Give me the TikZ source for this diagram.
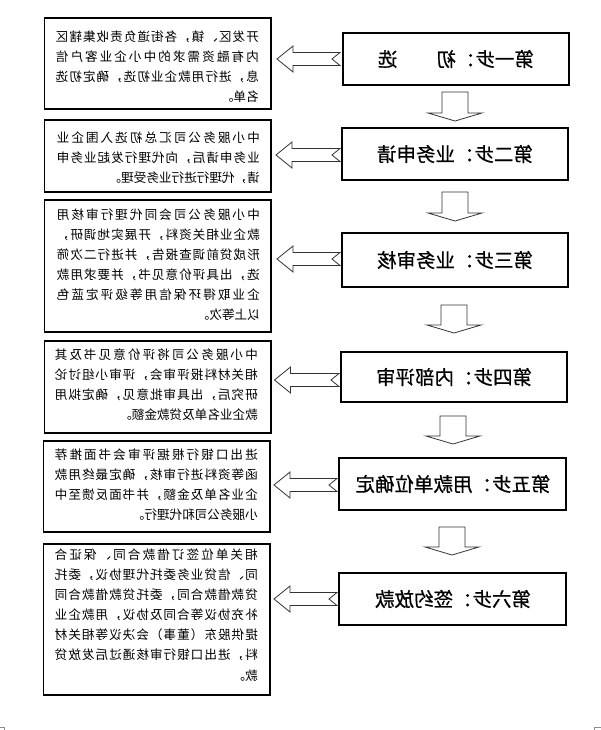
\documentclass[tikz,border=0pt]{standalone}
\usepackage{fontspec}
\newfontfamily\cjk{Noto Sans CJK SC}
\newfontfamily\cjkt[FakeBold=0.6]{Noto Sans CJK SC}
\newlength\jw
\setlength\jw{203pt}
\def\jend{\jend}
\def\jsp#1{\ifx#1\jend\else#1\expandafter\jsq\fi}
\def\jsq#1{\ifx#1\jend\else\hfil#1\expandafter\jsq\fi}
\newcommand\jl[1]{\makebox[\jw][s]{\jsp#1\jend}}
\tikzset{
  mir/.style={xscale=-1},
  txtbox/.style={draw=black, line width=1.1pt},
  stepbox/.style={draw=black, line width=1.3pt},
  tline/.style={mir, anchor=west, inner sep=0pt, font=\cjk\fontsize{12.6}{13}\selectfont},
  ttl/.style={mir, inner sep=0pt, font=\cjkt\fontsize{19.5}{20}\selectfont},
  barrow/.style={draw=black!80, line width=0.8pt, fill=white, line join=miter},
}
% notched left arrow: tip x, centre y, tail x
\newcommand\larrow[3]{%
  \draw[barrow] (#1,#2) -- (#1+16,#2-13) -- (#1+16,#2-6.5) -- (#3,#2-6.5)
     -- (#3-8,#2) -- (#3,#2+6.5) -- (#1+16,#2+6.5) -- (#1+16,#2+13) -- cycle;}
% down block arrow: centre x, top y, tip y
\newcommand\darrow[3]{%
  \draw[barrow] (#1-13,#2) -- (#1+13,#2) -- (#1+13,#3-8) -- (#1+27,#3-8)
     -- (#1,#3) -- (#1-27,#3-8) -- (#1-13,#3-8) -- cycle;}
\begin{document}
\begin{tikzpicture}[x=1pt,y=-1pt]
\useasboundingbox (0,0) rectangle (601,730);

% ---- step boxes (right column) ----
\draw[stepbox] (343,33) rectangle (569,85);   \coordinate (s1) at (456,59);
\draw[stepbox] (342,128) rectangle (568,180); \coordinate (s2) at (455,154);
\draw[stepbox] (342,233) rectangle (568,287); \coordinate (s3) at (455,260);
\draw[stepbox] (341,352) rectangle (567,402); \coordinate (s4) at (454,377);
\draw[stepbox] (339,458) rectangle (566,510); \coordinate (s5) at (453,484);
\draw[stepbox] (339,573) rectangle (566,625); \coordinate (s6) at (453,599);

\node[ttl] (t1) at (s1) {第一步：初　　选};
\node[ttl] (t2) at (s2) {第二步：业务申请};
\node[ttl] (t3) at (s3) {第三步：业务审核};
\node[ttl] (t4) at (s4) {第四步：内部评审};
\node[ttl] (t5) at (s5) {第五步：用款单位确定};
\node[ttl] (t6) at (s6) {第六步：签约放款};

% ---- down arrows ----
\darrow{455}{92}{121}
\darrow{455}{192}{221}
\darrow{454}{305}{333}
\darrow{453}{416}{444}
\darrow{452}{527}{555}

% ---- left arrows ----
\larrow{277}{59}{340}
\larrow{276}{155}{340}
\larrow{277}{259}{340}
\larrow{274.5}{380}{339}
\larrow{274}{485}{337}
\larrow{274}{599}{337}

% ---- text boxes (left column) ----
\draw[txtbox] (44.5,18) rectangle (271,109);
\draw[txtbox] (44.5,120) rectangle (271,192);
\draw[txtbox] (44.5,200) rectangle (271,332);
\draw[txtbox] (44.5,341) rectangle (271,433);
\draw[txtbox] (43.5,441) rectangle (270,532);
\draw[txtbox] (43.5,544) rectangle (270,695);

\node[tline] (a1) at (259,37) {\jl{开发区、镇，各街道负责收集辖区}};
\node[tline] (a2) at (259,57) {\jl{内有融资需求的中小企业客户信}};
\node[tline] (a3) at (259,77) {\jl{息，进行用款企业初选，确定初选}};
\node[tline] (a4) at (259,97) {名单。};

\node[tline] (b1) at (260,138) {\jl{中小服务公司汇总初选入围企业}};
\node[tline] (b2) at (260,158) {\jl{业务申请后，向代理行发起业务申}};
\node[tline] (b3) at (260,178) {请，代理行进行业务受理。};

\node[tline] (c1) at (260,215) {\jl{中小服务公司会同代理行审核用}};
\node[tline] (c2) at (260,235) {\jl{款企业相关资料，开展实地调研，}};
\node[tline] (c3) at (260,255) {\jl{形成贷前调查报告，并进行二次筛}};
\node[tline] (c4) at (260,275) {\jl{选，出具评价意见书，并要求用款}};
\node[tline] (c5) at (260,295) {\jl{企业取得环保信用等级评定蓝色}};
\node[tline] (c6) at (260,315) {以上等次。};

\node[tline] (d1) at (258,355) {\jl{中小服务公司将评价意见书及其}};
\node[tline] (d2) at (258,375) {\jl{相关材料报评审会，评审小组讨论}};
\node[tline] (d3) at (258,395) {\jl{研究后，出具审批意见，确定拟用}};
\node[tline] (d4) at (258,415) {款企业名单及贷款金额。};

\node[tline] (e1) at (258,455) {\jl{进出口银行根据评审会书面推荐}};
\node[tline] (e2) at (258,475) {\jl{函等资料进行审核，确定最终用款}};
\node[tline] (e3) at (258,495) {\jl{企业名单及金额，并书面反馈至中}};
\node[tline] (e4) at (258,515) {小服务公司和代理行。};

\node[tline] (f1) at (258,555) {\jl{相关单位签订借款合同、保证合}};
\node[tline] (f2) at (258,575) {\jl{同、信贷业务委托代理协议，委托}};
\node[tline] (f3) at (258,595) {\jl{贷款借款合同，委托贷款借款合同}};
\node[tline] (f4) at (258,615) {\jl{补充协议等合同及协议，用款企业}};
\node[tline] (f5) at (258,635) {\jl{提供股东（董事）会决议等相关材}};
\node[tline] (f6) at (258,655) {\jl{料，进出口银行审核通过后发放贷}};
\node[tline] (f7) at (258,676) {款。};

% ---- page corner marks ----
\draw[black!45, line width=0.6pt] (0,727) -- (4,727) -- (4,730);
\draw[black!45, line width=0.6pt] (601,727) -- (594,727) -- (594,730);
\end{tikzpicture}
\end{document}
